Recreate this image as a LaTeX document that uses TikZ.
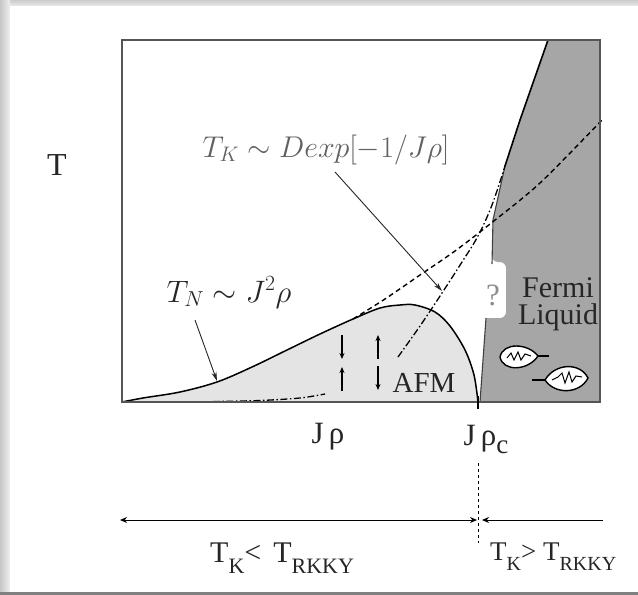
\RequirePackage{fix-cm}
\documentclass[tikz,border=0pt]{standalone}
\usepackage{fontspec}
\setmainfont{Liberation Serif}
\usetikzlibrary{arrows.meta}
\definecolor{fermigray}{HTML}{A6A6A6}
\definecolor{afmgray}{HTML}{E4E4E4}
\definecolor{framegray}{HTML}{555555}
% lowered subscripts in text labels
\newcommand{\subK}[1]{\raisebox{-11pt}{\fontsize{22}{22}\selectfont #1}}
\newcommand{\subk}[1]{\raisebox{-10pt}{\fontsize{20}{20}\selectfont #1}}
\begin{document}
\begin{tikzpicture}[x=1pt,y=-1pt,
  frame/.style={draw=framegray,line width=2.4pt},
  txt/.style={inner sep=0pt,text=black!85,font=\fontsize{28}{30}\selectfont},
  note/.style={draw=black!85,line width=0.9pt,-{Stealth[length=9pt,width=5pt]}},
  spin/.style={line width=1.6pt,-{Stealth[length=6pt,width=5pt]}},
  kondo/.style={line width=1.3pt,dash pattern=on 7pt off 2.5pt on 1.5pt off 2.5pt},
  extrap/.style={line width=1.4pt,dash pattern=on 5pt off 3.5pt},
  quasi/.style={draw=black,fill=white,line width=1.4pt},
  bothways/.style={line width=1pt,{Stealth[length=7pt,width=6pt]}-{Stealth[length=7pt,width=6pt]}},
  oneway/.style={line width=1pt,-{Stealth[length=7pt,width=6pt]}}
]
\useasboundingbox (0,0) rectangle (638,595);
% sheet with soft edge
\fill[black!16] (0,0) rectangle (638,595);
\shade[top color=black!20,bottom color=black!8] (0,0) rectangle (638,6);
\shade[left color=black!22,right color=black!6] (0,0) rectangle (10,595);
\fill[white] (10,6) rectangle (638,592);
\fill[black!50] (0,592) rectangle (638,595);

% antiferromagnetic dome
\fill[afmgray] plot[smooth,tension=0.55] coordinates {(122,402) (143,398) (180,392) (217,382) (252,367) (287,350) (320,334) (353,319) (380,308) (400,305) (415,305) (435,312) (450,326) (465,350) (474,375) (478,402)} -- cycle;

% Fermi liquid region
\fill[fermigray] (600,40) -- (600,402) -- (480,402) -- (486,318)
  [rounded corners=6pt] -- (506,318) -- (506,262) -- (492,262) [sharp corners]
  -- (492,261) -- (493,220) -- (505,166) -- (520,120) -- (534,80) -- (548,40) -- cycle;
\draw[line width=1.6pt] (548,40) -- (534,80) -- (520,120) -- (505,166);
\draw[black!75,line width=1.1pt] (505,166) -- (493,220) -- (492,264);
\draw[black!75,line width=1.1pt] (486,318) -- (480,402);

% Kondo temperature
\draw[kondo] plot[smooth] coordinates {(213,401.5) (260,400.5) (300,398) (325,394)};
\draw[kondo] plot[smooth,tension=0.6] coordinates {(398,357) (420,326) (442,293) (462,262) (478,236) (492,205) (505,166)};

% Neel temperature and its extrapolation
\draw[extrap] plot[smooth] coordinates {(353,319) (385,299) (420,275) (455,251) (490,224) (540,183) (602,120)};
\draw[line width=1.5pt] plot[smooth,tension=0.55] coordinates {(122,402) (143,398) (180,392) (217,382) (252,367) (287,350) (320,334) (353,319) (380,308) (400,305) (415,305) (435,312) (450,326) (465,350) (474,375) (478,402)};

% frame
\draw[frame] (122,40) rectangle (600,402);
\draw[line width=2pt] (478,396) -- (478,409);

% ordered moments
\draw[spin] (342,335) -- (342,359);
\draw[spin] (342,391) -- (342,367);
\draw[spin] (378,359) -- (378,335);
\draw[spin] (378,366) -- (378,390);

% heavy quasiparticles
\draw[quasi] (500,357) .. controls (503,342) and (528,343) .. (538,356) .. controls (528,371) and (503,372) .. (500,357) -- cycle;
\draw[line width=1.8pt] (538,356) -- (549,356);
\draw[line width=1pt] (507,358) -- (511,353) -- (514,360) -- (518,352) -- (521,360) -- (525,354) -- (531,356);
\draw[line width=1.4pt] (532,380) -- (546,380);
\draw[quasi] (545,380) .. controls (555,363) and (580,362) .. (588,378) .. controls (580,394) and (555,395) .. (545,380) -- cycle;
\draw[line width=1pt] (552,380) -- (558,377) -- (562,373) -- (565,383) -- (569,372) -- (572,382) -- (576,376) -- (582,377);

% labels
\node[txt,font=\fontsize{32}{34}\selectfont] (taxis) at (57,165) {T};
\node[txt,anchor=base,text=black!62,font=\fontsize{30}{32}\selectfont] (tklabel) at (326,157) {$T_K\sim Dexp[-1/J\rho]$};
\node[txt,anchor=base,font=\fontsize{31}{33}\selectfont] (tnlabel) at (229,302) {$T_N\sim J^2\rho$};
\node[txt,anchor=base,text=black!45,font=\fontsize{31}{33}\selectfont] (qmark) at (493,305) {?};
\node[txt,anchor=north,align=center,font=\fontsize{30}{27}\selectfont] (fermi) at (558,277) {Fermi\\Liquid};
\node[txt,anchor=base,font=\fontsize{29}{31}\selectfont] (afm) at (424,392) {AFM};
\node[txt,anchor=base,font=\fontsize{31}{33}\selectfont] (jrho) at (328,443) {J\,ρ};
\node[txt,anchor=base,font=\fontsize{31}{33}\selectfont] (jrhoc) at (486,445) {J\,ρ\raisebox{-8pt}{\fontsize{27}{27}\selectfont c}};
\node[txt,anchor=base west,font=\fontsize{30}{32}\selectfont] (below) at (210,562) {T\subK{K}<\hspace{12pt}T\subK{RKKY}};
\node[txt,anchor=base west,font=\fontsize{27}{29}\selectfont] (above) at (490,560) {T\subk{K}> T\subk{RKKY}};

% pointers to the curves
\coordinate (tkfoot) at (335,172);
\coordinate (tkcurve) at (442,291);
\draw[note] (tkfoot) -- (tkcurve);
\coordinate (tnfoot) at (195,320);
\coordinate (tncurve) at (217,381);
\draw[note] (tnfoot) -- (tncurve);

% coupling axis below the diagram
\coordinate (ruleL) at (120,520);
\coordinate (ruleM1) at (477,520);
\coordinate (ruleM2) at (482,520);
\coordinate (ruleR) at (603,520);
\coordinate (critTop) at (478,463);
\coordinate (critBot) at (478,543);
\draw[bothways] (ruleL) -- (ruleM1);
\draw[oneway] (ruleR) -- (ruleM2);
\draw[dashed,line width=1pt] (critTop) -- (critBot);
\end{tikzpicture}
\end{document}
